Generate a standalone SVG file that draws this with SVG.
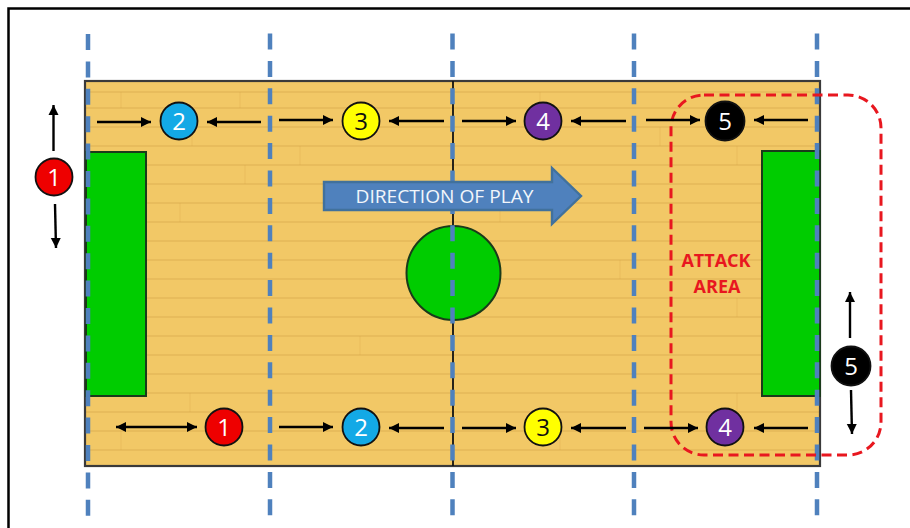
<svg xmlns="http://www.w3.org/2000/svg" width="910" height="528" viewBox="0 0 910 528">
<style>
.ln{fill:none;stroke:#000;stroke-width:2.400}
.dash{fill:none;stroke:#4f81bd;stroke-width:4.500;stroke-dasharray:16 11.4}
.num{font-family:"Open Sans","Noto Sans",sans-serif;font-size:24px;fill:#fff;text-anchor:middle}
.node{stroke:#111;stroke-width:1.800}
.green{fill:#00cc00;stroke:#1a3a1a;stroke-width:2}
.atk{font-family:"Open Sans","Liberation Sans",sans-serif;font-size:18px;font-weight:700;fill:#e8171f;text-anchor:middle}
.grain{fill:none;stroke:#d9a94e;stroke-width:2;opacity:.4}
.seam{fill:none;stroke:#d9a94e;stroke-width:1.500;opacity:.22}
</style>
<defs>
<marker id="h" markerUnits="userSpaceOnUse" markerWidth="11" markerHeight="11" refX="10" refY="5.500" orient="auto-start-reverse"><path d="M0 0.500L10 5.500L0 10.500Z" fill="#000"/></marker>
</defs>
<rect width="910" height="528" fill="#fff"/>
<path d="M8.500 528V8.500H910" fill="none" stroke="#000" stroke-width="2.500"/>
<g id="court">
<rect x="85" y="81" width="735" height="385" fill="#f2c866"/>
<path class="grain" d="M86 92H819M86 108H819M86 127H819M86 146H819M86 165H819M86 184H819M86 203H819M86 222H819M86 241H819M86 260H819M86 279H819M86 298H819M86 317H819M86 336H819M86 355H819M86 374H819M86 393H819M86 412H819M86 431H819M86 450H819"/>
<path class="seam" d="M121 92V108M240 92V108M192 127V146M300 146V165M245 165V184M180 203V222M540 92V108M660 127V146M737 146V165M500 203V222M620 260V279M737 298V317M360 336V355M190 393V412M121 431V450M560 431V450M737 393V412"/>
<rect x="85" y="81" width="735" height="385" fill="none" stroke="#3a3a3a" stroke-width="2.200"/>
<line x1="453" y1="81" x2="453" y2="466" stroke="#111" stroke-width="1.800"/>
</g>
<g id="goal-left"><rect class="green" x="86" y="152" width="60" height="244"/></g>
<g id="goal-right"><rect class="green" x="762" y="151" width="58" height="245"/></g>
<g id="centre-circle"><circle class="green" cx="453.500" cy="273" r="47"/></g>
<g id="zone-lines">
<line class="dash" x1="88" y1="34" x2="88" y2="516"/>
<line class="dash" x1="270" y1="33.500" x2="270" y2="516"/>
<line class="dash" x1="452.500" y1="33.500" x2="452.500" y2="516"/>
<line class="dash" x1="634" y1="33.500" x2="634" y2="516"/>
<line class="dash" x1="817" y1="33.500" x2="817" y2="516"/>
</g>
<g id="direction-arrow">
<path d="M324 182H552V168L581 196L552 224V210H324Z" fill="#4f81bd" stroke="#41719c" stroke-width="2.400"/>
<text x="444.500" y="203" font-family="'Open Sans','Noto Sans',sans-serif" font-size="18" fill="#f2f6fb" text-anchor="middle" textLength="178" lengthAdjust="spacingAndGlyphs">DIRECTION OF PLAY</text>
</g>
<g id="attack-area">
<rect x="671" y="95" width="210" height="360" rx="33" ry="33" fill="none" stroke="#e8171f" stroke-width="3" stroke-dasharray="10 5.500"/>
<text class="atk" x="716" y="267">ATTACK</text>
<text class="atk" x="717" y="293">AREA</text>
</g>
<g id="connectors">
<line class="ln" x1="97" y1="122" x2="151" y2="122" marker-end="url(#h)"/>
<line class="ln" x1="261" y1="122" x2="207" y2="122" marker-end="url(#h)"/>
<line class="ln" x1="279" y1="120" x2="333" y2="120" marker-end="url(#h)"/>
<line class="ln" x1="444" y1="121" x2="389" y2="121" marker-end="url(#h)"/>
<line class="ln" x1="462" y1="121" x2="516" y2="121" marker-end="url(#h)"/>
<line class="ln" x1="626" y1="121" x2="571" y2="121" marker-end="url(#h)"/>
<line class="ln" x1="646" y1="120" x2="700" y2="120" marker-end="url(#h)"/>
<line class="ln" x1="808" y1="120" x2="754" y2="120" marker-end="url(#h)"/>
<line class="ln" x1="116" y1="427" x2="197" y2="427" marker-start="url(#h)" marker-end="url(#h)"/>
<line class="ln" x1="279" y1="427" x2="333" y2="427" marker-end="url(#h)"/>
<line class="ln" x1="444" y1="428" x2="389" y2="428" marker-end="url(#h)"/>
<line class="ln" x1="462" y1="428" x2="516" y2="428" marker-end="url(#h)"/>
<line class="ln" x1="626" y1="428" x2="571" y2="428" marker-end="url(#h)"/>
<line class="ln" x1="644" y1="428" x2="698" y2="428" marker-end="url(#h)"/>
<line class="ln" x1="808" y1="428" x2="754" y2="428" marker-end="url(#h)"/>
<line class="ln" x1="53.500" y1="151" x2="53.500" y2="105" marker-end="url(#h)"/>
<line class="ln" x1="55" y1="204" x2="56" y2="248" marker-end="url(#h)"/>
<line class="ln" x1="850" y1="338" x2="850" y2="292" marker-end="url(#h)"/>
<line class="ln" x1="851" y1="390" x2="852" y2="434" marker-end="url(#h)"/>
</g>
<g id="top-2"><circle class="node" cx="179" cy="121" r="18.500" fill="#13a9e6"/><text class="num" x="179" y="130">2</text></g>
<g id="top-3"><circle class="node" cx="361" cy="121" r="18.500" fill="#ffff00"/><text class="num" x="361" y="130" style="fill:#111">3</text></g>
<g id="top-4"><circle class="node" cx="543" cy="121" r="18.500" fill="#7030a0"/><text class="num" x="543" y="130">4</text></g>
<g id="top-5"><circle class="node" cx="725" cy="121" r="19.500" fill="#000"/><text class="num" x="725" y="130">5</text></g>
<g id="side-1"><circle class="node" cx="54" cy="177" r="18.500" fill="#ee0000"/><text class="num" x="54" y="186">1</text></g>
<g id="side-5"><circle class="node" cx="851" cy="366" r="19.500" fill="#000"/><text class="num" x="851" y="375">5</text></g>
<g id="bottom-1"><circle class="node" cx="224" cy="427" r="18.500" fill="#ee0000"/><text class="num" x="224" y="436">1</text></g>
<g id="bottom-2"><circle class="node" cx="361" cy="427" r="18.500" fill="#13a9e6"/><text class="num" x="361" y="436">2</text></g>
<g id="bottom-3"><circle class="node" cx="543" cy="427" r="18.500" fill="#ffff00"/><text class="num" x="543" y="436" style="fill:#111">3</text></g>
<g id="bottom-4"><circle class="node" cx="725" cy="427" r="18.500" fill="#7030a0"/><text class="num" x="725" y="436">4</text></g>
</svg>
